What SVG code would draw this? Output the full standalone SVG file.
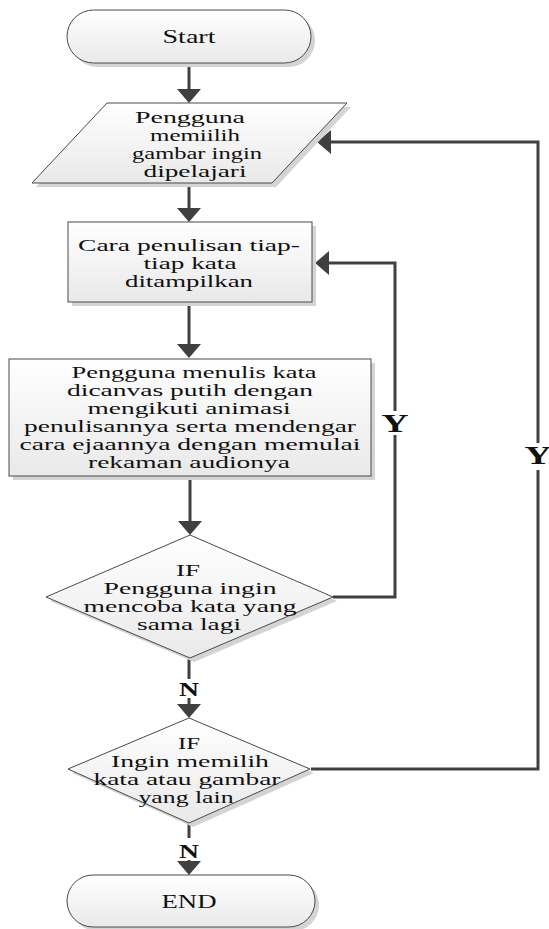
<svg xmlns="http://www.w3.org/2000/svg" width="549" height="929" viewBox="0 0 549 929">
<style>
.shape{fill:url(#g);stroke:#4a4a4a;stroke-width:1}
.shadow{fill:#d4d4d4}
.conn{fill:none;stroke:#404040;stroke-width:3}
.t{font-family:"Liberation Serif","Times New Roman",serif;font-size:16px;fill:#111;text-anchor:middle}
.lbl{font-family:"Liberation Serif","Times New Roman",serif;font-size:25px;font-weight:bold;fill:#111;text-anchor:middle}
</style>
<defs>
<linearGradient id="g" x1="0" y1="0" x2="0" y2="1">
<stop offset="0" stop-color="#ffffff"/>
<stop offset="1" stop-color="#e9e9e9"/>
</linearGradient>
<marker id="ah" markerUnits="userSpaceOnUse" markerWidth="14" markerHeight="24" viewBox="0 0 14 24" refX="7" refY="12" orient="auto">
<path d="M0,0 L14,12 L0,24 z" fill="#404040"/>
</marker>
</defs>
<rect width="549" height="929" fill="#ffffff"/>

<g id="connectors">
<path class="conn" d="M189,63 V96" marker-end="url(#ah)"/>
<path class="conn" d="M189,183 V215" marker-end="url(#ah)"/>
<path class="conn" d="M189,302 V351" marker-end="url(#ah)"/>
<path class="conn" d="M190,476 V528" marker-end="url(#ah)"/>
<path class="conn" d="M189,658 V679"/>
<path class="conn" d="M189,698 V711" marker-end="url(#ah)"/>
<path class="conn" d="M189,823 V838"/>
<path class="conn" d="M189,860 V868" marker-end="url(#ah)"/>
<path class="conn" d="M333,597 H395 V435"/>
<path class="conn" d="M395,411 V263 H322" marker-end="url(#ah)"/>
<path class="conn" d="M311,769 H538 V470"/>
<path class="conn" d="M538,443 V142 H324" marker-end="url(#ah)"/>
<text class="lbl" x="395" y="432" textLength="27" lengthAdjust="spacingAndGlyphs">Y</text>
<text class="lbl" x="538" y="464" textLength="27" lengthAdjust="spacingAndGlyphs">Y</text>
<text class="lbl" x="189" y="696" style="font-size:19px" textLength="20" lengthAdjust="spacingAndGlyphs">N</text>
<text class="lbl" x="189" y="858" style="font-size:19px" textLength="20" lengthAdjust="spacingAndGlyphs">N</text>
</g>

<g id="start">
<rect class="shadow" x="71" y="14" width="244" height="53" rx="26.5"/>
<rect class="shape" x="67" y="10" width="244" height="53" rx="26.5"/>
<text class="t" x="189" y="43" style="font-size:18px" textLength="53" lengthAdjust="spacingAndGlyphs">Start</text>
</g>

<g id="input">
<polygon class="shadow" points="111,107 351,107 276,187 36,187"/>
<polygon class="shape" points="107,103 347,103 272,183 32,183"/>
<text class="t" x="190" y="123" textLength="110" lengthAdjust="spacingAndGlyphs">Pengguna</text>
<text class="t" x="195" y="141" textLength="90" lengthAdjust="spacingAndGlyphs">memiilih</text>
<text class="t" x="197" y="159" textLength="130" lengthAdjust="spacingAndGlyphs">gambar ingin</text>
<text class="t" x="195" y="177" textLength="103" lengthAdjust="spacingAndGlyphs">dipelajari</text>
</g>

<g id="show">
<rect class="shadow" x="72" y="226" width="244" height="80"/>
<rect class="shape" x="68" y="222" width="244" height="80"/>
<text class="t" x="189" y="251" textLength="222" lengthAdjust="spacingAndGlyphs">Cara penulisan tiap-</text>
<text class="t" x="190" y="269" textLength="93" lengthAdjust="spacingAndGlyphs">tiap kata</text>
<text class="t" x="189" y="287" textLength="128" lengthAdjust="spacingAndGlyphs">ditampilkan</text>
</g>

<g id="write">
<rect class="shadow" x="13" y="363" width="362" height="117"/>
<rect class="shape" x="9" y="359" width="362" height="117"/>
<text class="t" x="194" y="378" textLength="245" lengthAdjust="spacingAndGlyphs">Pengguna menulis kata</text>
<text class="t" x="190" y="396" textLength="246" lengthAdjust="spacingAndGlyphs">dicanvas putih dengan</text>
<text class="t" x="189" y="414" textLength="203" lengthAdjust="spacingAndGlyphs">mengikuti animasi</text>
<text class="t" x="190" y="432" textLength="332" lengthAdjust="spacingAndGlyphs">penulisannya serta mendengar</text>
<text class="t" x="190" y="450" textLength="341" lengthAdjust="spacingAndGlyphs">cara ejaannya dengan memulai</text>
<text class="t" x="189" y="468" textLength="202" lengthAdjust="spacingAndGlyphs">rekaman audionya</text>
</g>

<g id="decision1">
<polygon class="shadow" points="194,539 337,601 194,662 50,601"/>
<polygon class="shape" points="190,535 333,597 190,658 46,597"/>
<text class="t" x="188" y="576" textLength="24" lengthAdjust="spacingAndGlyphs">IF</text>
<text class="t" x="190" y="594" textLength="173" lengthAdjust="spacingAndGlyphs">Pengguna ingin</text>
<text class="t" x="190" y="612" textLength="213" lengthAdjust="spacingAndGlyphs">mencoba kata yang</text>
<text class="t" x="189" y="630" textLength="104" lengthAdjust="spacingAndGlyphs">sama lagi</text>
</g>

<g id="decision2">
<polygon class="shadow" points="193,722 314,773 193,827 72,773"/>
<polygon class="shape" points="189,718 310,769 189,823 68,769"/>
<text class="t" x="189" y="749" textLength="22" lengthAdjust="spacingAndGlyphs">IF</text>
<text class="t" x="190" y="767" textLength="158" lengthAdjust="spacingAndGlyphs">Ingin memilih</text>
<text class="t" x="187" y="785" textLength="187" lengthAdjust="spacingAndGlyphs">kata atau gambar</text>
<text class="t" x="186" y="803" textLength="95" lengthAdjust="spacingAndGlyphs">yang lain</text>
</g>

<g id="end">
<rect class="shadow" x="71" y="879" width="248" height="52" rx="26"/>
<rect class="shape" x="67" y="875" width="248" height="52" rx="26"/>
<text class="t" x="189" y="908" style="font-size:18px" textLength="55" lengthAdjust="spacingAndGlyphs">END</text>
</g>
</svg>
